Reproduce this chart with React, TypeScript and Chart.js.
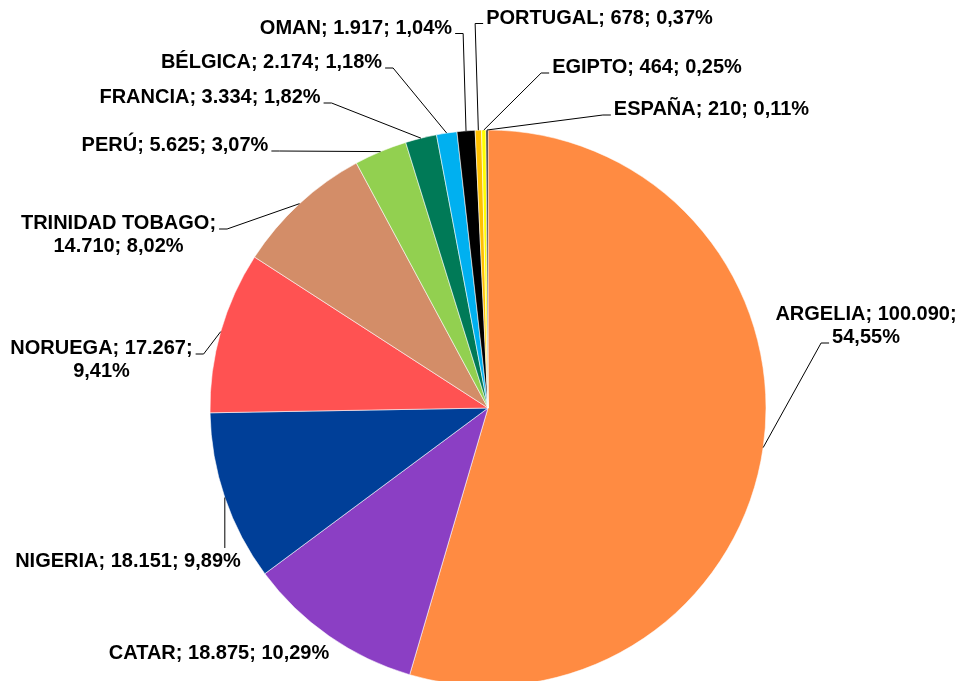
import React, { useEffect, useRef } from "react";
import { Chart, registerables } from "chart.js";

Chart.register(...registerables);

// ---- data ----
const COUNTRIES = [
  "ARGELIA",
  "CATAR",
  "NIGERIA",
  "NORUEGA",
  "TRINIDAD TOBAGO",
  "PERÚ",
  "FRANCIA",
  "BÉLGICA",
  "OMAN",
  "PORTUGAL",
  "EGIPTO",
  "ESPAÑA",
];
const VALUES = [100090, 18875, 18151, 17267, 14710, 5625, 3334, 2174, 1917, 678, 464, 210];
const COLORS = [
  "#FF8B42",
  "#8B3FC4",
  "#003F98",
  "#FF5252",
  "#D38D68",
  "#92D050",
  "#007A57",
  "#00B0F0",
  "#000000",
  "#FFC000",
  "#FFFF00",
  "#1A1A1A",
];

// ---- label layout (separate from data) ----
// dx: label centre x offset from pie centre, dy: first baseline offset (px at reference radius)
// split: how many of the 3 parts go on the first line; attach: line index for leader, "top", or "none"
const REF_R = 278;
const LINE_H = 23;
const LABEL_LAYOUT: { dx: number; dy: number; split: number; attach: number | "top" | "none" }[] = [
  { dx: 378, dy: -88, split: 2, attach: 1 },
  { dx: -269, dy: 251, split: 3, attach: "none" },
  { dx: -360, dy: 159, split: 3, attach: "top" },
  { dx: -386.5, dy: -54, split: 2, attach: 0 },
  { dx: -369.5, dy: -179, split: 1, attach: 0 },
  { dx: -313, dy: -257, split: 3, attach: 0 },
  { dx: -278, dy: -305, split: 3, attach: 0 },
  { dx: -216.5, dy: -340, split: 3, attach: 0 },
  { dx: -132, dy: -374.5, split: 3, attach: 0 },
  { dx: 111.5, dy: -384.5, split: 3, attach: 0 },
  { dx: 159, dy: -335, split: 3, attach: 0 },
  { dx: 223.5, dy: -293, split: 3, attach: 0 },
];

const FONT = 'bold 20px "Liberation Sans", Arial, sans-serif';

function fmtThousands(v: number): string {
  return String(v).replace(/\B(?=(\d{3})+(?!\d))/g, ".");
}

function fmtPct(v: number, total: number): string {
  return ((v / total) * 100).toFixed(2).replace(".", ",") + "%";
}

const labelPlugin = {
  id: "excelLabels",
  afterDraw(chart: any) {
    const meta = chart.getDatasetMeta(0);
    const ctx: CanvasRenderingContext2D = chart.ctx;
    const values: number[] = chart.data.datasets[0].data;
    const total = values.reduce((a, b) => a + b, 0);
    ctx.save();
    ctx.font = FONT;
    ctx.fillStyle = "#000";
    ctx.strokeStyle = "#000";
    ctx.lineWidth = 1;
    ctx.textAlign = "center";
    ctx.textBaseline = "alphabetic";
    meta.data.forEach((arc: any, i: number) => {
      const p = arc.getProps(["x", "y", "startAngle", "endAngle", "outerRadius"], true);
      const mid = (p.startAngle + p.endAngle) / 2;
      const px = p.x + Math.cos(mid) * p.outerRadius;
      const py = p.y + Math.sin(mid) * p.outerRadius;
      const s = p.outerRadius / REF_R;
      const L = LABEL_LAYOUT[i];
      const parts = [chart.data.labels[i], fmtThousands(values[i]), fmtPct(values[i], total)];
      const lines: string[] = [];
      lines.push(parts.slice(0, L.split).join("; ") + (L.split < 3 ? ";" : ""));
      if (L.split < 3) lines.push(parts.slice(L.split).join("; "));
      const cx = p.x + L.dx * s;
      const by = p.y + L.dy * s;
      lines.forEach((t, k) => ctx.fillText(t, cx, by + k * LINE_H));

      if (L.attach === "none") return;
      ctx.beginPath();
      if (L.attach === "top") {
        ctx.moveTo(px, py);
        ctx.lineTo(px, by - 19);
      } else {
        const k = L.attach as number;
        const ay = by + k * LINE_H;
        const w = ctx.measureText(lines[k]).width;
        let edge: number, end: number, elbow: number;
        if (cx > px) {
          edge = cx - w / 2;
          end = edge - 3;
          elbow = edge - 11;
        } else {
          edge = cx + w / 2;
          end = edge + 3;
          elbow = edge + 11;
        }
        ctx.moveTo(px, py);
        ctx.lineTo(elbow, ay);
        ctx.lineTo(end, ay);
      }
      ctx.stroke();
    });
    ctx.restore();
  },
};

export default function App() {
  const canvasRef = useRef<HTMLCanvasElement | null>(null);

  useEffect(() => {
    document.body.style.margin = "0";
    document.body.style.overflow = "hidden";
    const canvas = canvasRef.current;
    if (!canvas) return;
    const chart = new Chart(canvas, {
      type: "pie",
      data: {
        labels: COUNTRIES,
        datasets: [
          {
            data: VALUES,
            backgroundColor: COLORS,
            borderColor: "rgba(255,255,255,0.7)",
            borderWidth: 0.8,
            radius: 278,
            clip: false as any,
          } as any,
        ],
      },
      options: {
        animation: false,
        responsive: true,
        maintainAspectRatio: false,
        layout: { padding: { top: 135, bottom: 0, left: 16, right: 0 } },
        plugins: {
          legend: { display: false },
          tooltip: { enabled: false },
          title: { display: false },
        },
      },
      plugins: [labelPlugin],
    });
    return () => chart.destroy();
  }, []);

  return (
    <div style={{ width: 960, height: 681, position: "relative", background: "#fff" }}>
      <canvas ref={canvasRef} />
    </div>
  );
}
